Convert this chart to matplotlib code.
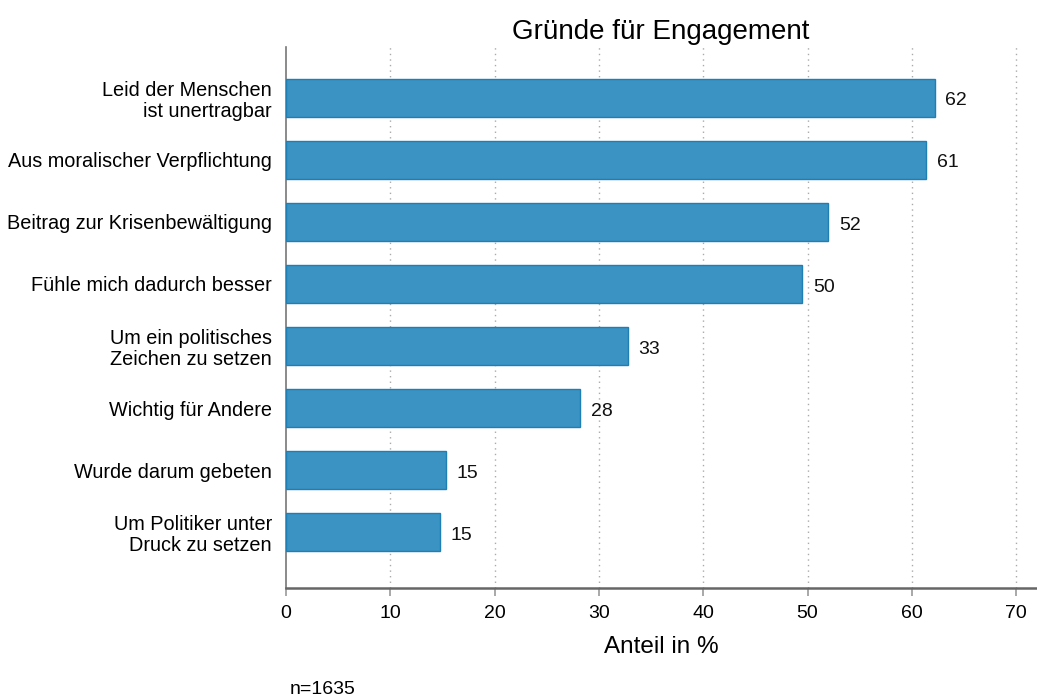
import matplotlib
matplotlib.use('Agg')
import matplotlib.pyplot as plt

categories = ['Leid der Menschen\nist unertragbar',
              'Aus moralischer Verpflichtung',
              'Beitrag zur Krisenbewältigung',
              'Fühle mich dadurch besser',
              'Um ein politisches\nZeichen zu setzen',
              'Wichtig für Andere',
              'Wurde darum gebeten',
              'Um Politiker unter\nDruck zu setzen']
values = [62.2, 61.4, 52.0, 49.5, 32.8, 28.2, 15.3, 14.8]
xticks = [0, 10, 20, 30, 40, 50, 60, 70]

plt.rcParams['font.family'] = ['Liberation Sans', 'DejaVu Sans']

fig = plt.figure(figsize=(10.37, 7), dpi=100)
ax = fig.add_axes([0.2758, 0.16, 0.7232, 0.7729])

ypos = list(range(len(categories) - 1, -1, -1))
ax.barh(ypos, values, height=0.61, color='#3a93c3', edgecolor='#1f7fb5', linewidth=1, zorder=3)

for y, v in zip(ypos, values):
    ax.text(v + 1.0, y - 0.05, '%d' % round(v), va='center', ha='left', fontsize=14, color='#111111')

ax.set_xlim(0, 71.9)
ax.set_ylim(-0.9, 7.82)
ax.set_yticks(ypos)
ax.set_yticklabels(categories, fontsize=14.3, linespacing=1.15)
ax.set_xticks(xticks)
ax.set_xticklabels([str(t) for t in xticks], fontsize=14)
ax.tick_params(axis='y', length=0, pad=10)
ax.tick_params(axis='x', length=6, width=1.2, color='#999999', pad=6)

for t in xticks[1:]:
    ax.axvline(t, color='#aaaaaa', linestyle=(0, (1, 3)), linewidth=1, zorder=1)

for s in ['top', 'right']:
    ax.spines[s].set_visible(False)
ax.spines['left'].set_color('#777777')
ax.spines['bottom'].set_color('#666666')
ax.spines['left'].set_linewidth(1.2)
ax.spines['bottom'].set_linewidth(1.8)

ax.set_title('Gründe für Engagement', fontsize=20, pad=6)
ax.set_xlabel('Anteil in %', fontsize=17.5, labelpad=10)

fig.text(290 / 1037, 1 - 690 / 700, 'n=1635', fontsize=14, va='center', ha='left')

fig.savefig('out.png', dpi=100)
